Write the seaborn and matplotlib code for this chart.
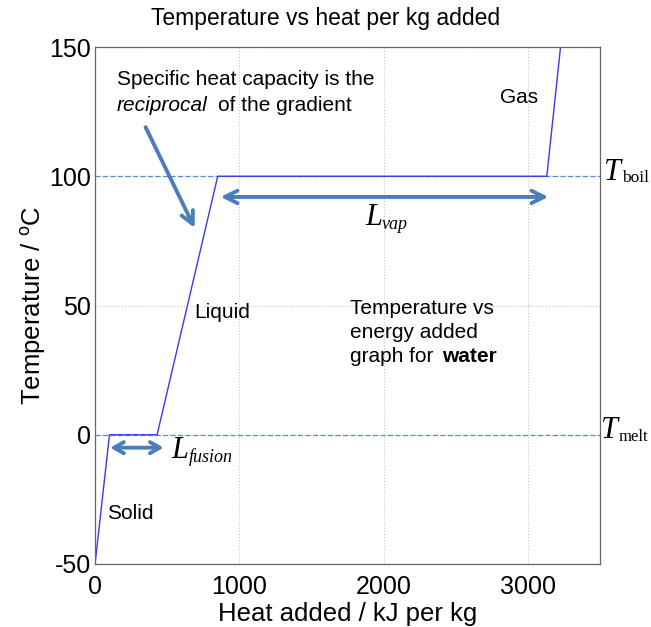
import seaborn as sns
import matplotlib.pyplot as plt
import matplotlib.transforms as mtransforms
import pandas as pd

# Dane: krzywa ogrzewania wody
heat_added = [0, 100, 430, 850, 3130, 3225]
temperature = [-50, 0, 0, 100, 100, 150]
phase_temps = [0, 100]
phase_subs = ["melt", "boil"]

x_ticks = [0, 1000, 2000, 3000]
y_ticks = [-50, 0, 50, 100, 150]

sns.set_style("white")
plt.rcParams["font.family"] = ["Liberation Sans", "DejaVu Sans"]
plt.rcParams["axes.unicode_minus"] = False
plt.rcParams["text.color"] = "black"
plt.rcParams["axes.labelcolor"] = "black"
plt.rcParams["xtick.labelcolor"] = "black"
plt.rcParams["ytick.labelcolor"] = "black"

data = pd.DataFrame({"heat": heat_added, "temp": temperature})

fig = plt.figure(figsize=(6.51, 6.27), dpi=100)
ax = fig.add_axes([0.146, 0.1005, 0.776, 0.8245])

for t in phase_temps:
    ax.axhline(t, color="#5b8bd0", linestyle=(0, (4, 2)), linewidth=0.9, zorder=1)

sns.lineplot(data=data, x="heat", y="temp", sort=False, color="#3a3af0",
             linewidth=1.0, ax=ax, zorder=2)

ax.set_xlim(0, 3500)
ax.set_ylim(-50, 150)
ax.set_xticks(x_ticks)
ax.set_yticks(y_ticks)
ax.grid(True, linestyle=":", color="#c8c8c8", linewidth=0.8)
ax.tick_params(labelsize=18, direction="in", length=4, color="#666666")
ax.tick_params(axis="x", pad=8)
ax.tick_params(axis="y", pad=3)
for s in ax.spines.values():
    s.set_color("#666666")
    s.set_linewidth(0.9)

fig.text(0.5, 0.97, "Temperature vs heat per kg added", fontsize=16.5,
         ha="center", va="center")
ax.set_xlabel("Heat added / kJ per kg", fontsize=18.5, labelpad=2)
ax.set_ylabel("Temperature / $^{\\mathregular{o}}$C", fontsize=18.5, labelpad=1)

arrow_col = "#4a7ebb"
# strzałki
ax.annotate("", xy=(3140, 92), xytext=(870, 92),
            arrowprops=dict(arrowstyle="<->,head_length=0.9,head_width=0.45",
                            color=arrow_col, lw=2.8, shrinkA=0, shrinkB=0))
ax.annotate("", xy=(475, -5), xytext=(105, -5),
            arrowprops=dict(arrowstyle="<->,head_length=0.7,head_width=0.4",
                            color=arrow_col, lw=2.8, shrinkA=0, shrinkB=0))
ax.annotate("", xy=(690, 80), xytext=(350, 119),
            arrowprops=dict(arrowstyle="->,head_length=0.9,head_width=0.45",
                            color=arrow_col, lw=2.8, shrinkA=0, shrinkB=0))


def symbol(x, y, main, sub, sub_italic, dx, dy, sub_size=13):
    # duża litera kursywą + indeks dolny obok
    ax.text(x, y, main, fontsize=22, family="Liberation Serif",
            style="italic", va="center", ha="left", clip_on=False)
    tr = mtransforms.offset_copy(ax.transData, fig=fig, x=dx, y=dy, units="dots")
    ax.text(x, y, sub, fontsize=sub_size, family="Liberation Serif",
            style="italic" if sub_italic else "normal",
            va="center", ha="left", transform=tr, clip_on=False)


symbol(1870, 84, "L", "vap", True, 17, -7)
symbol(530, -6, "L", "fusion", True, 17, -7)
symbol(3528, 101.5, "T", phase_subs[1], False, 18, -6, 12.5)
symbol(3507, 1.5, "T", phase_subs[0], False, 17, -6, 12)

ax.text(153, 137.6, "Specific heat capacity is the", fontsize=15, va="center")
ax.text(153, 127.5, "reciprocal", fontsize=15, va="center", style="italic")
ax.text(850, 127.5, "of the gradient", fontsize=15, va="center")

ax.text(2805, 130.6, "Gas", fontsize=15, va="center")
ax.text(688, 47.3, "Liquid", fontsize=15, va="center")
ax.text(83, -30.6, "Solid", fontsize=15, va="center")

ax.text(1764, 48.8, "Temperature vs", fontsize=15, va="center")
ax.text(1764, 39.5, "energy added", fontsize=15, va="center")
ax.text(1764, 30.2, "graph for ", fontsize=15, va="center")
ax.text(2403, 30.2, "water", fontsize=15, va="center", weight="bold")

fig.savefig("out.png", dpi=100)
